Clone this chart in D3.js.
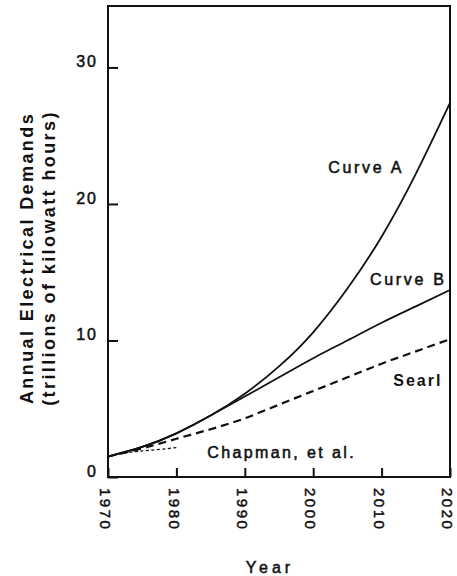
<!DOCTYPE html>
<html>
<head>
<meta charset="utf-8">
<script src="https://cdn.jsdelivr.net/npm/d3@7"></script>
<style>
  body { margin: 0; background: #fff; }
  text { font-family: "Liberation Sans", Arial, sans-serif; fill: #111; }
</style>
</head>
<body>
<script>
//years shared by the projections
var years = [1970, 1975, 1980, 1985, 1990, 1995, 2000, 2005, 2010, 2015, 2020];

//annual demand, trillions of kWh
var curveA = [1.5, 2.2, 3.2, 4.5, 6.1, 8.1, 10.6, 13.8, 17.6, 22.2, 27.4];
var curveB = [1.5, 2.2, 3.2, 4.5, 5.9, 7.3, 8.7, 10.0, 11.3, 12.5, 13.7];
var searl  = [1.5, 2.1, 2.8, 3.5, 4.3, 5.3, 6.3, 7.3, 8.3, 9.2, 10.1];

//Chapman line only runs to 1980
var chapmanYears = [1970, 1973, 1976, 1980];
var chapman = [1.5, 1.8, 1.95, 2.15];

var yTicks = [0, 10, 20, 30];
var xTicks = [1970, 1980, 1990, 2000, 2010, 2020];

window.onload = drawChart();

function drawChart(){
    var width = 457,
        height = 576;

    var svg = d3.select("body")
        .append("svg")
        .attr("width", width)
        .attr("height", height);

    var x = d3.scaleLinear()
        .domain([1970, 2020])
        .range([108, 450]);

    var y = d3.scaleLinear()
        .domain([0, 34.5])
        .range([477, 6]);

    //frame
    svg.append("rect")
        .attr("x", x(1970))
        .attr("y", y(34.5))
        .attr("width", x(2020) - x(1970))
        .attr("height", y(0) - y(34.5))
        .attr("fill", "none")
        .attr("stroke", "#111")
        .attr("stroke-width", 2);

    //y axis, ticks pointing inward
    var yAxis = svg.append("g")
        .attr("transform", "translate(" + x(1970) + ",0)")
        .call(d3.axisLeft(y).tickValues(yTicks).tickSize(-10).tickPadding(10));
    yAxis.select(".domain").remove();
    yAxis.selectAll("line").attr("stroke", "#111").attr("stroke-width", 2);
    yAxis.selectAll("text")
        .attr("dy", "-0.05em")
        .style("font-size", "16px")
        .style("letter-spacing", "2px")
        .style("font-family", "'Liberation Sans', Arial, sans-serif")
        .attr("stroke", "#111")
        .attr("stroke-width", 0.5)
        .attr("fill", "#111");

    //x axis, ticks pointing inward, labels rotated
    var xAxis = svg.append("g")
        .attr("transform", "translate(0," + y(0) + ")")
        .call(d3.axisBottom(x).tickValues(xTicks).tickFormat(d3.format("d")).tickSize(-9));
    xAxis.select(".domain").remove();
    xAxis.selectAll("line").attr("stroke", "#111").attr("stroke-width", 2);
    xAxis.selectAll("text")
        .attr("x", 11)
        .attr("y", 0)
        .attr("dy", "0.55em")
        .attr("transform", "rotate(90)")
        .style("text-anchor", "start")
        .style("font-size", "15px")
        .style("letter-spacing", "2.5px")
        .style("font-family", "'Liberation Sans', Arial, sans-serif")
        .attr("stroke", "#111")
        .attr("stroke-width", 0.5)
        .attr("fill", "#111");

    var line = d3.line()
        .x(function(d){ return x(d[0]); })
        .y(function(d){ return y(d[1]); })
        .curve(d3.curveNatural);

    var series = [
        {vals: d3.zip(chapmanYears, chapman), dash: "3,2.5", w: 1.3},
        {vals: d3.zip(years, searl), dash: "8,5", w: 2.2},
        {vals: d3.zip(years, curveB), dash: null, w: 1.8},
        {vals: d3.zip(years, curveA), dash: null, w: 1.8}
    ];

    svg.selectAll(".series")
        .data(series)
        .enter()
        .append("path")
        .attr("class", "series")
        .attr("d", function(d){ return line(d.vals); })
        .attr("fill", "none")
        .attr("stroke", "#111")
        .attr("stroke-width", function(d){ return d.w; })
        .attr("stroke-dasharray", function(d){ return d.dash; });

    //curve labels
    function label(txt, yr, v, bold, ls){
        svg.append("text")
            .attr("x", x(yr))
            .attr("y", y(v))
            .style("font-size", "16px")
            .style("font-weight", bold ? "bold" : "normal")
            .style("letter-spacing", ls + "px")
            .attr("stroke", "#111")
            .attr("stroke-width", bold ? 0 : 0.55)
            .text(txt);
    }
    label("Curve A", 2002.2, 22.3, false, 2.7);
    label("Curve B", 2008.3, 14.1, false, 2.7);
    label("Searl", 2011.7, 6.7, true, 2);
    label("Chapman, et al.", 1984.5, 1.4, false, 2.4);

    //axis titles
    var yTitle = svg.append("text")
        .attr("transform", "translate(27,258) rotate(-90)")
        .style("text-anchor", "middle")
        .style("font-size", "18px")
        .style("font-weight", "bold")
        .style("letter-spacing", "2.4px");
    yTitle.append("tspan")
        .attr("x", 0)
        .attr("dy", "0.35em")
        .text("Annual Electrical Demands");
    yTitle.append("tspan")
        .attr("x", 0)
        .attr("dy", "1.2em")
        .text("(trillions of kilowatt hours)");

    svg.append("text")
        .attr("x", 270)
        .attr("y", 573)
        .style("text-anchor", "middle")
        .style("font-size", "16px")
        .style("letter-spacing", "4px")
        .attr("stroke", "#111")
        .attr("stroke-width", 0.5)
        .text("Year");
}
</script>
</body>
</html>
